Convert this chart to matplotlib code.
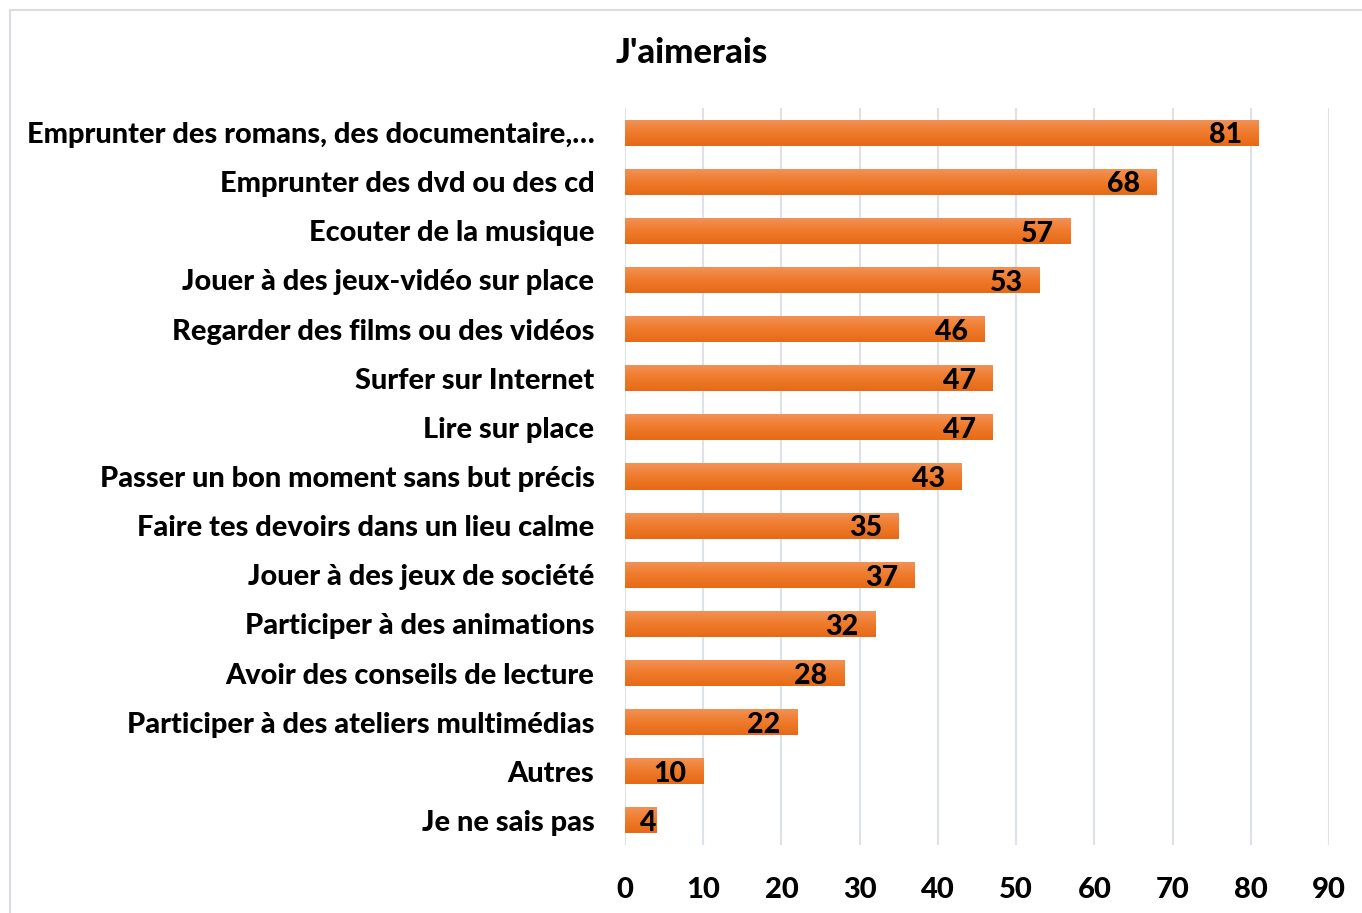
import numpy as np
import matplotlib
matplotlib.use("Agg")
import matplotlib.pyplot as plt
from matplotlib.colors import LinearSegmentedColormap
from matplotlib.patches import Rectangle

plt.rcParams['font.family'] = ['Lato', 'DejaVu Sans']

categories = [
    "Emprunter des romans, des documentaire,…",
    "Emprunter des dvd ou des cd",
    "Ecouter de la musique",
    "Jouer à des jeux-vidéo sur place",
    "Regarder des films ou des vidéos",
    "Surfer sur Internet",
    "Lire sur place",
    "Passer un bon moment sans but précis",
    "Faire tes devoirs dans un lieu calme",
    "Jouer à des jeux de société",
    "Participer à des animations",
    "Avoir des conseils de lecture",
    "Participer à des ateliers multimédias",
    "Autres",
    "Je ne sais pas",
]
values = [81, 68, 57, 53, 46, 47, 47, 43, 35, 37, 32, 28, 22, 10, 4]
xticks = list(range(0, 100, 10))

fig = plt.figure(figsize=(13.62, 9.13), dpi=100)
ax = fig.add_axes([0.4589, 0.0745, 0.5169, 0.8072])

y = np.arange(len(categories))
bars = ax.barh(y, values, height=0.53, color="#ED7D31", zorder=2)

# vertical gradient like the Excel style (lighter on top)
cmap = LinearSegmentedColormap.from_list("og", ["#F29358", "#EF7B2C", "#E66A17"])
grad = np.linspace(0, 1, 64).reshape(-1, 1)
for b in bars:
    x0, y0 = b.get_x(), b.get_y()
    w, h = b.get_width(), b.get_height()
    im = ax.imshow(grad, cmap=cmap, aspect="auto", extent=(x0, x0 + w, y0 + h, y0),
                   origin="upper", zorder=2.5)
    im.set_clip_path(b)

ax.set_xlim(0, 90)
ax.set_ylim(len(categories) - 0.5, -0.5)

# labels inside end; short bars get the label pushed in from the left
for yi, v in zip(y, values):
    if v < 6:
        ax.annotate(str(v), (0, yi), xytext=(11, -2), textcoords="offset points",
                    ha="left", va="center", fontsize=20.5, fontweight="black",
                    color="black", zorder=3)
    else:
        ax.annotate(str(v), (v, yi), xytext=(-12, -2), textcoords="offset points",
                    ha="right", va="center", fontsize=20.5, fontweight="black",
                    color="black", zorder=3)

ax.set_xticks(xticks)
ax.set_yticks(y)
ax.set_yticklabels(categories)
ax.tick_params(axis="y", length=0, pad=22, labelsize=20.8)
ax.tick_params(axis="x", length=0, pad=23, labelsize=21)
for lab in ax.get_yticklabels() + ax.get_xticklabels():
    lab.set_fontweight("black")
ax.grid(axis="x", color="#DDE1E8", linewidth=1.5, zorder=0)
ax.set_axisbelow(True)
for s in ax.spines.values():
    s.set_visible(False)

fig.text(0.508, 0.942, "J'aimerais", ha="center", va="center",
         fontsize=25, fontweight="black")

fig.patches.append(Rectangle((10 / 1362, -0.01), 1.02, 1 - 10 / 913 + 0.01,
                             transform=fig.transFigure, fill=False,
                             edgecolor="#D9DCE3", linewidth=1.5))

fig.savefig("out.png", dpi=100)
